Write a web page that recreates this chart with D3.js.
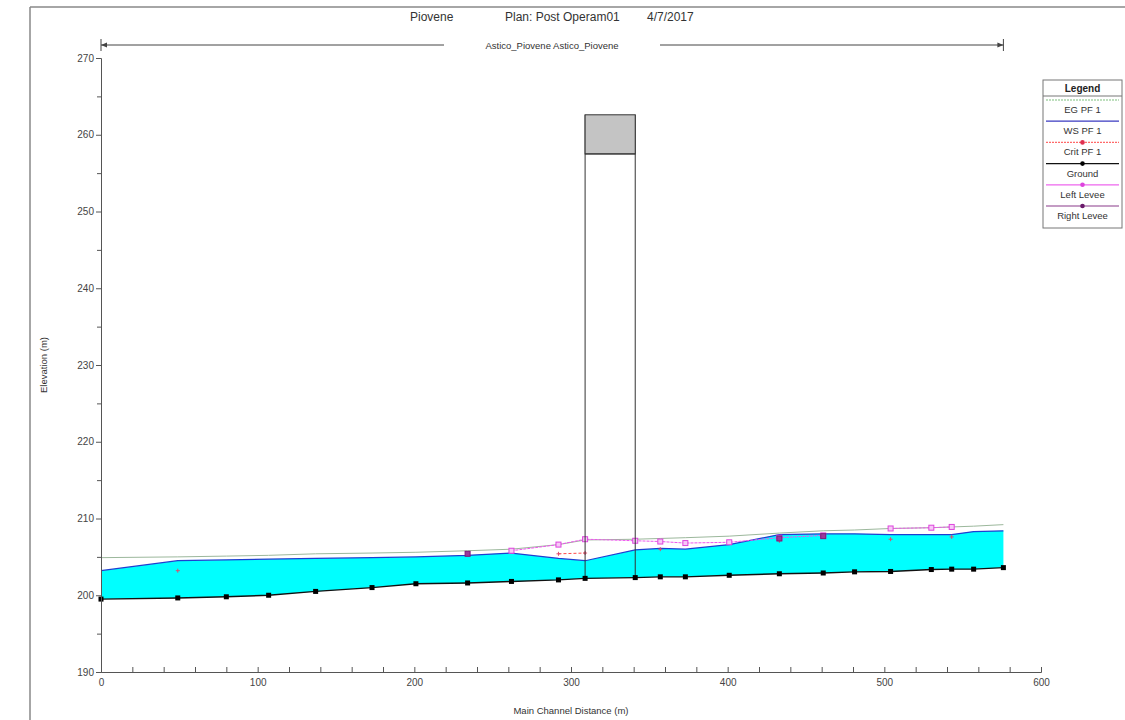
<!DOCTYPE html>
<html>
<head>
<meta charset="utf-8">
<script src="https://cdn.jsdelivr.net/npm/d3@7"></script>
<style>
  html, body { margin: 0; padding: 0; background: #fff; }
  svg { display: block; font-family: "Liberation Sans", Arial, sans-serif; }
  .axis path, .axis line { stroke: #555; }
  .axis text { fill: #444; font-size: 10px; font-family: "Liberation Sans", Arial, sans-serif; }
</style>
</head>
<body>
<svg id="chart" width="1125" height="720"></svg>
<script>
// Profile data: main channel stations (m) and elevations (m)
const stations = [0, 49, 80, 107, 137, 173, 201, 234, 262, 292, 309, 341, 357, 373, 401, 433, 461, 481, 504, 530, 543, 557, 576];
const ground   = [199.5, 199.65, 199.8, 200.0, 200.5, 201.0, 201.5, 201.6, 201.8, 202.0, 202.2, 202.3, 202.4, 202.4, 202.6, 202.8, 202.9, 203.05, 203.1, 203.35, 203.4, 203.4, 203.6];
const wsPF1    = [203.2, 204.5, 204.6, 204.7, 204.8, 204.9, 205.0, 205.2, 205.5, 204.8, 204.5, 205.9, 206.1, 206.0, 206.6, 207.9, 208.0, 208.0, 207.9, 207.9, 207.9, 208.3, 208.4];
const egPF1    = [204.9, 205.0, 205.1, 205.2, 205.4, 205.5, 205.6, 205.8, 206.0, 206.6, 207.2, 207.3, 207.4, 207.5, 207.7, 208.1, 208.4, 208.5, 208.7, 208.8, 208.9, 209.0, 209.2];
const critPF1  = [null, 203.2, null, null, null, null, null, null, null, 205.4, 205.5, null, 206.0, null, null, 207.1, null, null, 207.3, null, 207.6, null, null];
const leftLevee  = [null, null, null, null, null, null, null, null, 205.8, 206.6, 207.3, 207.1, 207.0, 206.8, 206.9, 207.5, 207.8, null, 208.7, 208.8, 208.9, null, null];
const rightLevee = [null, null, null, null, null, null, null, 205.4, null, null, null, null, null, null, null, 207.4, 207.7, null, null, null, null, null, null];

// Inline structure (deck) between its two faces
const deckStations = [309, 341];
const deckLowChord = 257.5;
const deckHighChord = 262.6;

// Axis ticks
const yMajor = [190, 200, 210, 220, 230, 240, 250, 260, 270];
const yMinor = [195, 205, 215, 225, 235, 245, 255, 265];
const xMajor = [0, 100, 200, 300, 400, 500, 600];
const xMinor = d3.range(20, 600, 20).filter(v => v % 100 !== 0);

// Text
const titleParts = ["Piovene", "Plan: Post Operam01", "4/7/2017"];
const reachLabel = "Astico_Piovene Astico_Piovene";
const xTitle = "Main Channel Distance (m)";
const yTitle = "Elevation (m)";
const legendItems = ["EG  PF 1", "WS  PF 1", "Crit  PF 1", "Ground", "Left Levee", "Right Levee"];

const svg = d3.select("#chart");
const x = d3.scaleLinear().domain([0, 600]).range([101, 1041]);
const y = d3.scaleLinear().domain([190, 270]).range([672, 58]);

// Outer frame
svg.append("line").attr("x1", 30).attr("x2", 1125).attr("y1", 7).attr("y2", 7).attr("stroke", "#888").attr("stroke-width", 1.5);
svg.append("line").attr("x1", 30).attr("x2", 30).attr("y1", 7).attr("y2", 720).attr("stroke", "#888").attr("stroke-width", 1.5);

// Title
const titleX = [410, 505, 647];
titleParts.forEach((t, i) => {
  svg.append("text").attr("x", titleX[i]).attr("y", 21).attr("font-size", 12).attr("fill", "#333").text(t);
});

// Water fill between ground and water surface
const rows = stations.map((s, i) => ({ s, g: ground[i], ws: wsPF1[i], eg: egPF1[i], cr: critPF1[i], ll: leftLevee[i], rl: rightLevee[i] }));
svg.append("path").datum(rows)
  .attr("d", d3.area().x(d => x(d.s)).y0(d => y(d.g)).y1(d => y(d.ws)))
  .attr("fill", "#00ffff");

// Energy grade line
svg.append("path").datum(rows)
  .attr("d", d3.line().x(d => x(d.s)).y(d => y(d.eg)))
  .attr("fill", "none").attr("stroke", "#9cb89c").attr("stroke-width", 1);

// Water surface line
svg.append("path").datum(rows)
  .attr("d", d3.line().x(d => x(d.s)).y(d => y(d.ws)))
  .attr("fill", "none").attr("stroke", "#1f3fd0").attr("stroke-width", 1.2);

// Critical depth
svg.append("path").datum(rows)
  .attr("d", d3.line().defined(d => d.cr != null).x(d => x(d.s)).y(d => y(d.cr)))
  .attr("fill", "none").attr("stroke", "#ff4a4a").attr("stroke-width", 1).attr("stroke-dasharray", "3,2");
svg.append("g").selectAll("path").data(rows.filter(d => d.cr != null)).join("path")
  .attr("d", d => `M${x(d.s) - 2},${y(d.cr)}h4M${x(d.s)},${y(d.cr) - 2}v4`)
  .attr("stroke", "#e04a6a").attr("stroke-width", 1);

// Left levee
svg.append("path").datum(rows)
  .attr("d", d3.line().defined(d => d.ll != null).x(d => x(d.s)).y(d => y(d.ll)))
  .attr("fill", "none").attr("stroke", "#ee55ee").attr("stroke-width", 1).attr("stroke-dasharray", "3,1");
svg.append("g").selectAll("rect").data(rows.filter(d => d.ll != null)).join("rect")
  .attr("x", d => x(d.s) - 2.5).attr("y", d => y(d.ll) - 2.5).attr("width", 5).attr("height", 5)
  .attr("fill", "#f7c8f7").attr("stroke", "#dd44dd").attr("stroke-width", 1);

// Right levee
svg.append("g").selectAll("rect").data(rows.filter(d => d.rl != null)).join("rect")
  .attr("x", d => x(d.s) - 2.5).attr("y", d => y(d.rl) - 2.5).attr("width", 5).attr("height", 5)
  .attr("fill", "#9a3a9a").attr("stroke", "#7a1a7a").attr("stroke-width", 1);

// Structure faces and deck
deckStations.forEach(s => {
  const gi = stations.indexOf(s);
  svg.append("line").attr("x1", x(s)).attr("x2", x(s)).attr("y1", y(ground[gi])).attr("y2", y(deckHighChord))
    .attr("stroke", "#333").attr("stroke-width", 1);
});
svg.append("rect")
  .attr("x", x(deckStations[0])).attr("y", y(deckHighChord))
  .attr("width", x(deckStations[1]) - x(deckStations[0])).attr("height", y(deckLowChord) - y(deckHighChord))
  .attr("fill", "#c4c4c4").attr("stroke", "#333").attr("stroke-width", 1);
svg.append("line").attr("x1", x(deckStations[0])).attr("x2", x(deckStations[1]))
  .attr("y1", y(deckLowChord)).attr("y2", y(deckLowChord)).attr("stroke", "#333");

// Ground line with station markers
svg.append("path").datum(rows)
  .attr("d", d3.line().x(d => x(d.s)).y(d => y(d.g)))
  .attr("fill", "none").attr("stroke", "#111").attr("stroke-width", 1.4);
svg.append("g").selectAll("rect").data(rows).join("rect")
  .attr("x", d => x(d.s) - 2.5).attr("y", d => y(d.g) - 2.5).attr("width", 5).attr("height", 5)
  .attr("fill", "#000");

// Reach extent arrow
const reachY = 45;
const rx0 = x(stations[0]), rx1 = x(stations[stations.length - 1]);
const gapL = 444, gapR = 660;
svg.append("line").attr("x1", rx0).attr("x2", gapL).attr("y1", reachY).attr("y2", reachY).attr("stroke", "#444");
svg.append("line").attr("x1", gapR).attr("x2", rx1).attr("y1", reachY).attr("y2", reachY).attr("stroke", "#444");
[rx0, rx1].forEach((px, i) => {
  svg.append("line").attr("x1", px).attr("x2", px).attr("y1", reachY - 6).attr("y2", reachY + 6).attr("stroke", "#444");
  const d = i === 0 ? 1 : -1;
  svg.append("path").attr("d", `M${px},${reachY}l${6 * d},-2.5v5z`).attr("fill", "#444");
});
svg.append("text").attr("x", (gapL + gapR) / 2).attr("y", reachY + 4).attr("text-anchor", "middle")
  .attr("font-size", 9.5).attr("fill", "#333").text(reachLabel);

// Y axis
svg.append("g").attr("class", "axis").attr("transform", `translate(${x(0)},0)`)
  .call(d3.axisLeft(y).tickValues(yMajor).tickSize(5).tickPadding(2).tickFormat(d3.format("d")));
svg.append("g").attr("class", "axis").attr("transform", `translate(${x(0)},0)`)
  .call(d3.axisLeft(y).tickValues(yMinor).tickSize(4).tickFormat(""))
  .call(g => g.select(".domain").remove());

// X axis
svg.append("g").attr("class", "axis").attr("transform", `translate(0,${y(190)})`)
  .call(d3.axisBottom(x).tickValues(xMajor).tickSize(-5).tickPadding(7).tickFormat(d3.format("d")));
svg.append("g").attr("class", "axis").attr("transform", `translate(0,${y(190)})`)
  .call(d3.axisBottom(x).tickValues(xMinor).tickSize(-5).tickFormat(""))
  .call(g => g.select(".domain").remove());

// Axis titles
svg.append("text").attr("x", 571).attr("y", 714).attr("text-anchor", "middle")
  .attr("font-size", 9.5).attr("fill", "#333").text(xTitle);
svg.append("text").attr("transform", `translate(47,${(y(190) + y(270)) / 2}) rotate(-90)`)
  .attr("text-anchor", "middle").attr("font-size", 9.5).attr("fill", "#333").text(yTitle);

// Legend
const lg = svg.append("g").attr("transform", "translate(1043,80)");
lg.append("rect").attr("width", 79).attr("height", 148).attr("fill", "#fff").attr("stroke", "#777");
lg.append("text").attr("x", 39.5).attr("y", 12).attr("text-anchor", "middle")
  .attr("font-size", 10).attr("font-weight", "bold").attr("fill", "#222").text("Legend");
lg.append("line").attr("x1", 0).attr("x2", 79).attr("y1", 16).attr("y2", 16).attr("stroke", "#777");
const legendStyles = [
  { stroke: "#7fbf7f", dash: "2,1", marker: null },
  { stroke: "#3a3ac0", dash: null, marker: null },
  { stroke: "#ff6a6a", dash: "2,1", marker: "#e03050" },
  { stroke: "#111", dash: null, marker: "#000" },
  { stroke: "#ee66ee", dash: null, marker: "#dd44dd" },
  { stroke: "#8a3a8a", dash: null, marker: "#6a1a6a" }
];
legendItems.forEach((label, i) => {
  const ly = 20 + i * 21.2;
  const st = legendStyles[i];
  lg.append("line").attr("x1", 3).attr("x2", 76).attr("y1", ly).attr("y2", ly)
    .attr("stroke", st.stroke).attr("stroke-width", 1.2).attr("stroke-dasharray", st.dash);
  if (st.marker) {
    lg.append("circle").attr("cx", 39.5).attr("cy", ly).attr("r", 2.3).attr("fill", st.marker);
  }
  lg.append("text").attr("x", 39.5).attr("y", ly + 13).attr("text-anchor", "middle")
    .attr("font-size", 9.5).attr("fill", "#333").text(label);
});
</script>
</body>
</html>
